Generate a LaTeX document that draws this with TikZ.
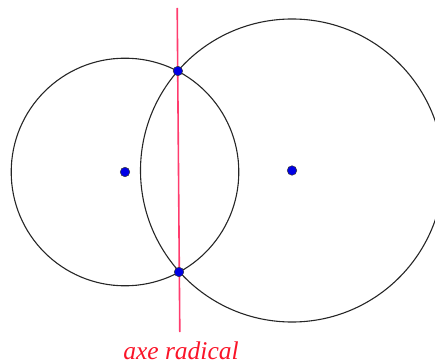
\documentclass[tikz,border=0pt]{standalone}
\usepackage{fontspec}
\setmainfont{Liberation Serif}
\definecolor{axecol}{RGB}{255,60,110}
\definecolor{txtcol}{RGB}{250,20,40}
\definecolor{ptblue}{RGB}{0,0,230}
\begin{document}
\begin{tikzpicture}[x=1pt,y=-1pt,
  circ/.style={draw=black!85,line width=1.1pt},
  pt/.style={circle,fill=ptblue,draw=black!80,line width=0.5pt,inner sep=0pt,minimum size=9.5pt},
  axe/.style={draw=axecol,line width=1.6pt},
  lbl/.style={text=txtcol,font=\fontsize{25.5}{28}\selectfont\itshape,anchor=base,inner sep=0pt}]
\useasboundingbox (0,0) rectangle (435,363);
\clip (0,0) rectangle (435,363);
\draw[circ] (125,172) circle (113.8);
\draw[circ] (292,170.5) circle (151.5);
\coordinate (top) at (177.2,8);
\coordinate (bot) at (179.8,332);
\draw[axe] (top) -- (bot);
\node[pt] (c1) at (125,172) {};
\node[pt] (c2) at (292,170.5) {};
\node[pt] (p1) at (177.9,71) {};
\node[pt] (p2) at (179,272) {};
\node[lbl] (lab) at (181,359.5) {axe radical};
\end{tikzpicture}
\end{document}
